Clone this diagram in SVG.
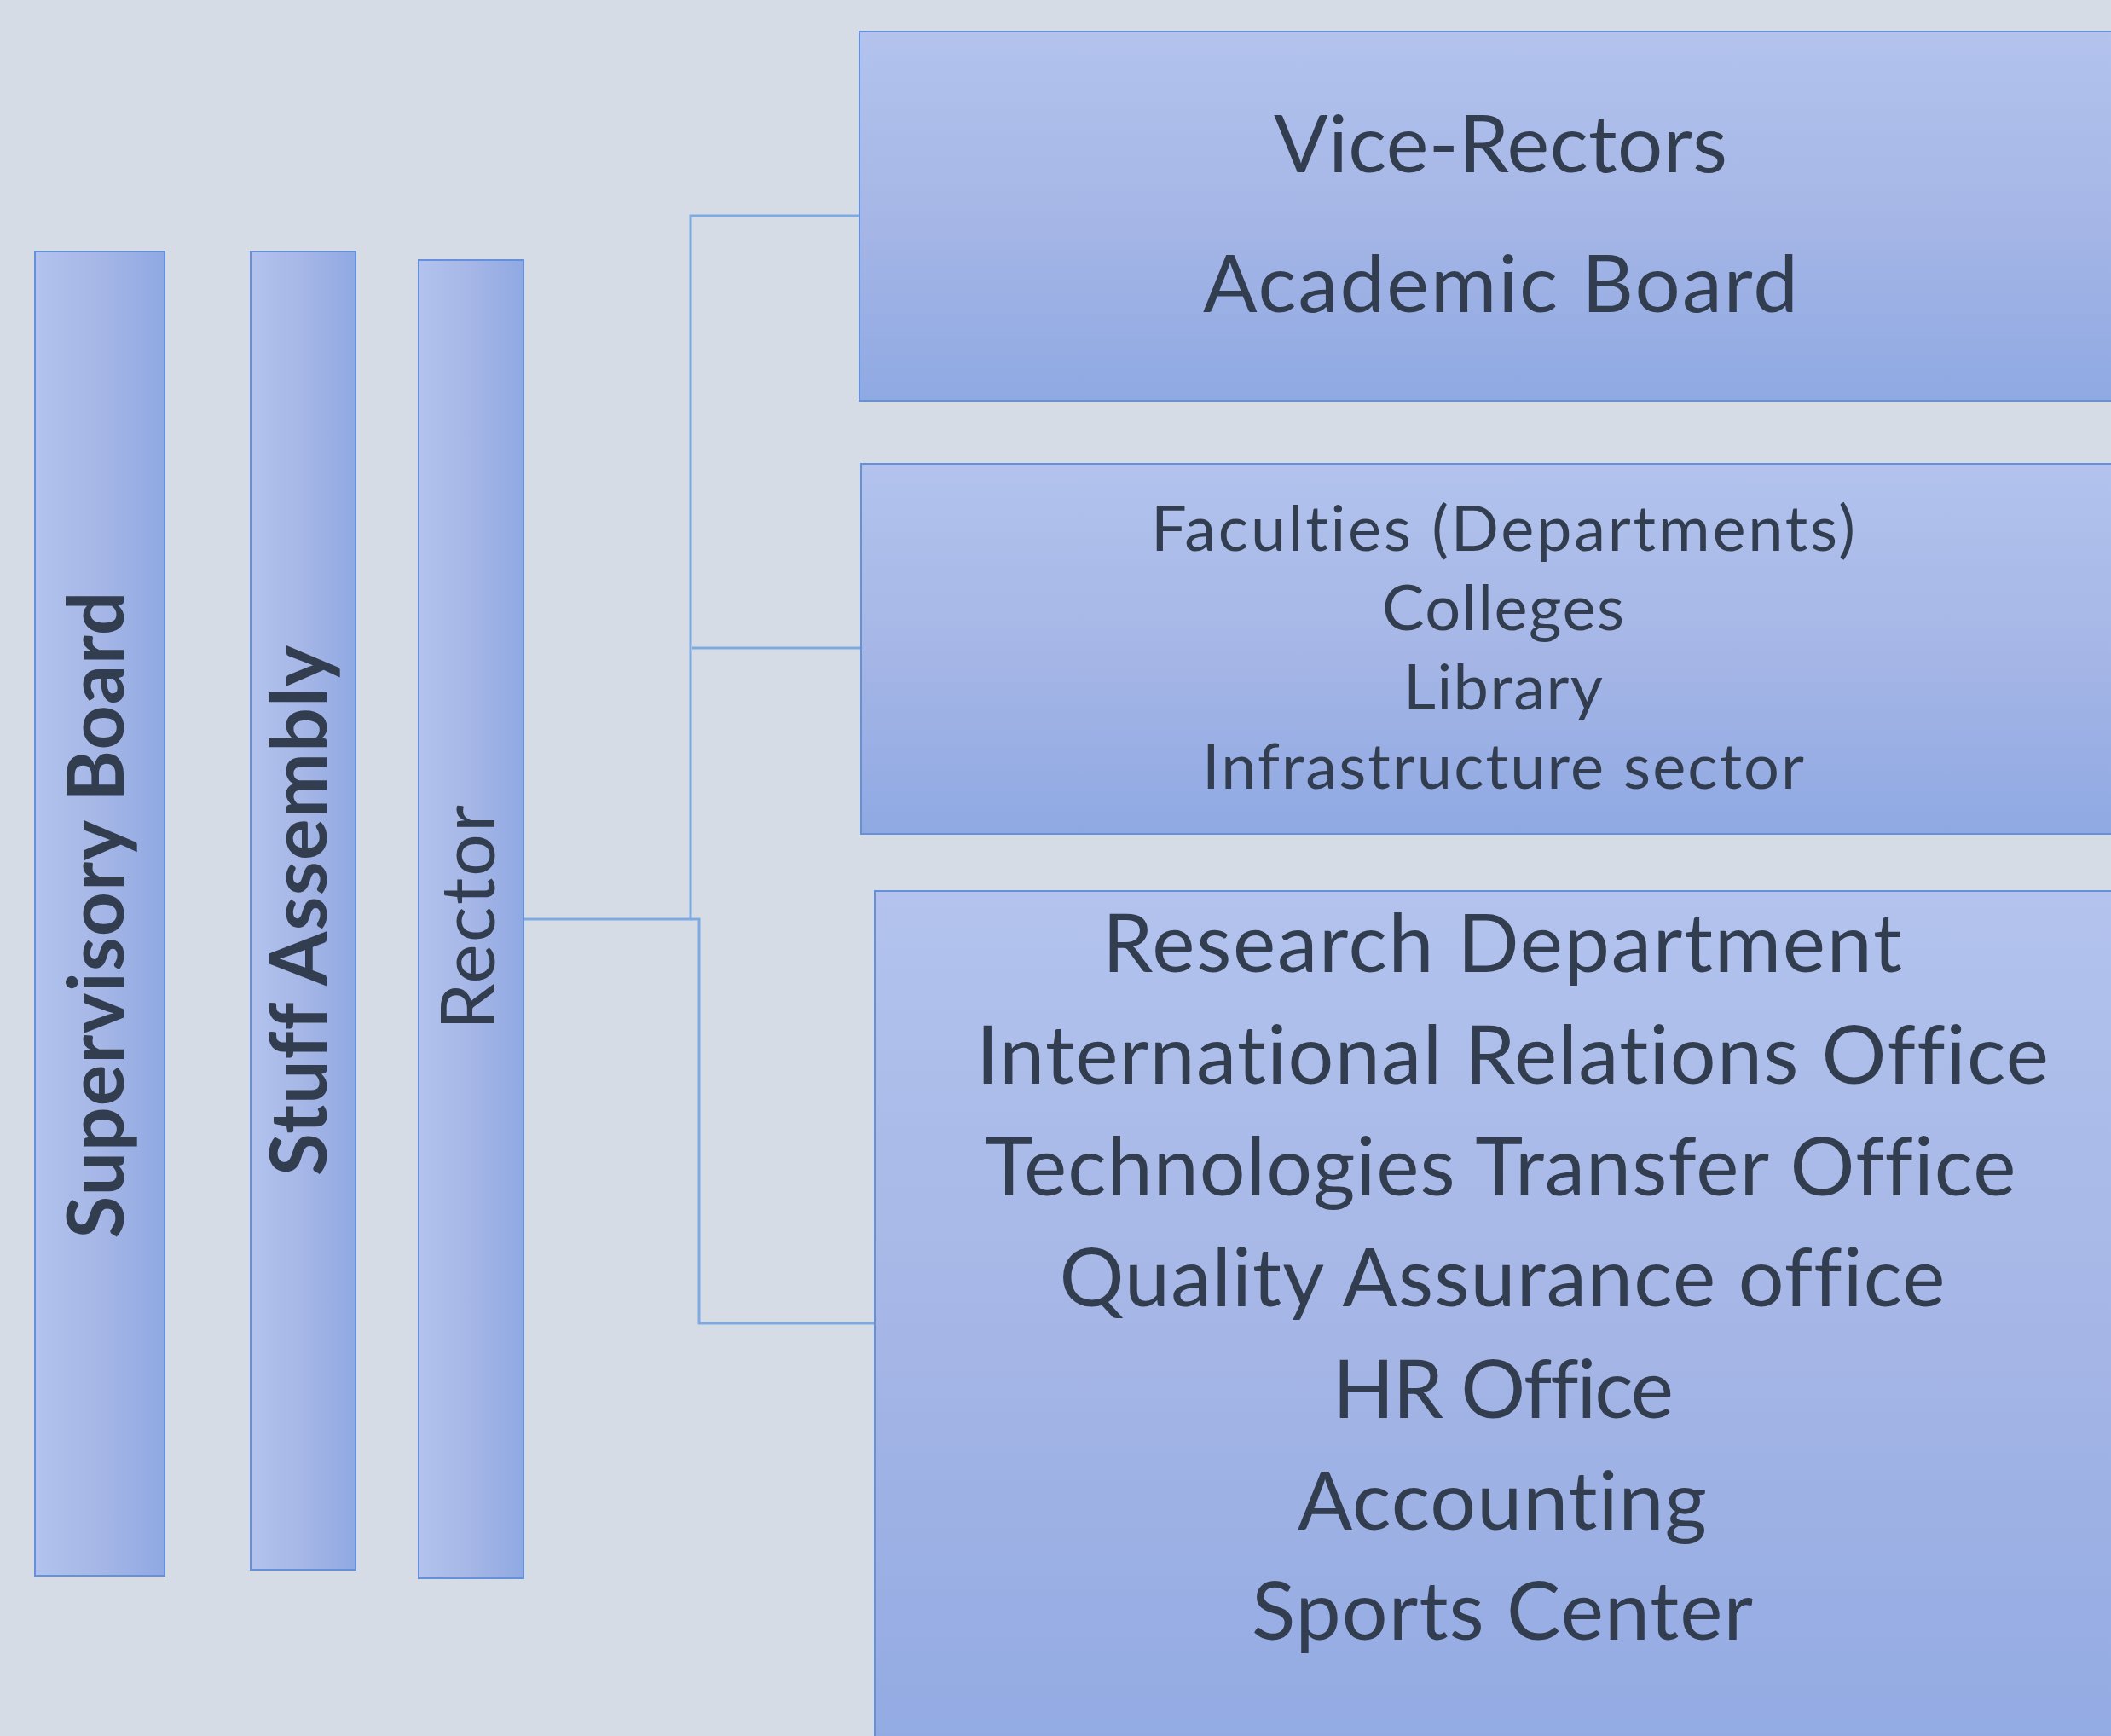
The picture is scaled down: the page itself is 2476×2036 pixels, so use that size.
<svg xmlns="http://www.w3.org/2000/svg" width="2476" height="2036" viewBox="0 0 2476 2036">
<defs>
<linearGradient id="gh" x1="0" y1="0" x2="1" y2="0">
<stop offset="0" stop-color="#B3C3EE"/>
<stop offset="0.5" stop-color="#A6B6E6"/>
<stop offset="1" stop-color="#8FA9E3"/>
</linearGradient>
<linearGradient id="gv" x1="0" y1="0" x2="0" y2="1">
<stop offset="0" stop-color="#B3C3EE"/>
<stop offset="0.5" stop-color="#A6B6E6"/>
<stop offset="1" stop-color="#8FA9E3"/>
</linearGradient>
<linearGradient id="gv3" gradientUnits="userSpaceOnUse" x1="0" y1="1045" x2="0" y2="2036">
<stop offset="0" stop-color="#B3C3EE"/>
<stop offset="0.5" stop-color="#A6B6E6"/>
<stop offset="1" stop-color="#93ABE3"/>
</linearGradient>
</defs>
<style>
.bg{fill:#D5DCE6}
.col{fill:url(#gh);stroke:#6490DC;stroke-width:2}
.box{fill:url(#gv);stroke:#6490DC;stroke-width:2}
.t{font-family:Lato,"Liberation Sans",sans-serif;fill:#323E4F;text-anchor:middle;font-variant-ligatures:none}
.b{font-weight:bold}
.conn{fill:none;stroke:#7FA9E1;stroke-width:3}
</style>
<rect class="bg" x="0" y="0" width="2476" height="2036"/>

<g id="connectors">
<polyline class="conn" points="614,1078 810,1078 810,253 1007,253"/>
<polyline class="conn" points="812,760 1010,760"/>
<polyline class="conn" points="810,1078 820,1078 820,1552 1026,1552"/>
</g>

<g id="supervisory-board">
<rect class="col" x="41" y="295" width="152" height="1553"/>
<text class="t b" transform="translate(145,1073) rotate(-90)" font-size="91" textLength="759">Supervisory Board</text>
</g>

<g id="stuff-assembly">
<rect class="col" x="294" y="295" width="123" height="1546"/>
<text class="t b" transform="translate(383,1068) rotate(-90)" font-size="91" textLength="622">Stuff Assembly</text>
</g>

<g id="rector">
<rect class="col" x="491" y="305" width="123" height="1546"/>
<text class="t" transform="translate(580,1076) rotate(-90)" font-size="88" textLength="264">Rector</text>
</g>

<g id="vice-rectors">
<rect class="box" x="1008" y="37" width="1500" height="433"/>
<text class="t" x="1760" y="202" font-size="94" textLength="532">Vice-Rectors</text>
<text class="t" x="1760" y="366" font-size="94" textLength="698">Academic Board</text>
</g>

<g id="faculties">
<rect class="box" x="1010" y="544" width="1500" height="434"/>
<text class="t" x="1763" y="646" font-size="74" textLength="826">Faculties (Departments)</text>
<text class="t" x="1763" y="739" font-size="74" textLength="284">Colleges</text>
<text class="t" x="1763" y="832" font-size="74" textLength="234">Library</text>
<text class="t" x="1763" y="925" font-size="74" textLength="706">Infrastructure sector</text>
</g>

<g id="offices">
<rect x="1026" y="1045" width="1500" height="1020" fill="url(#gv3)" stroke="#6490DC" stroke-width="2"/>
<text class="t" x="1762" y="1140" font-size="95" textLength="938">Research Department</text>
<text class="t" x="1774" y="1271" font-size="95" textLength="1258">International Relations Office</text>
<text class="t" x="1760" y="1402" font-size="95" textLength="1209">Technologies Transfer Office</text>
<text class="t" x="1762" y="1532" font-size="95" textLength="1039">Quality Assurance office</text>
<text class="t" x="1763" y="1663" font-size="95" textLength="400">HR Office</text>
<text class="t" x="1762" y="1794" font-size="95" textLength="480">Accounting</text>
<text class="t" x="1762" y="1923" font-size="95" textLength="588">Sports Center</text>
</g>
</svg>
